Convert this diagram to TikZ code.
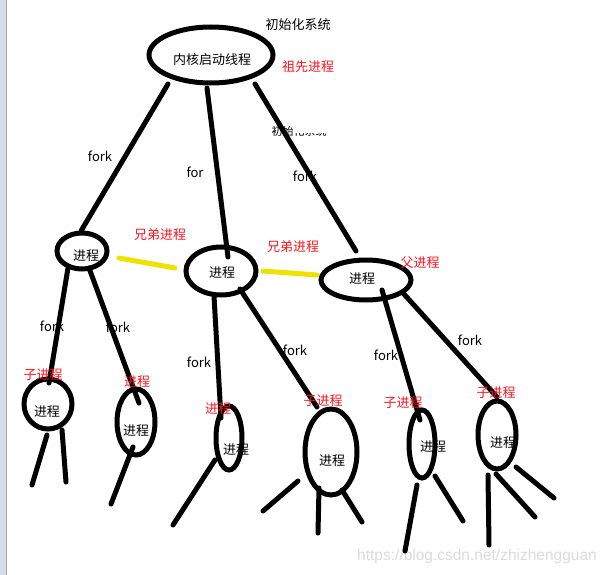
\documentclass[tikz,border=0pt]{standalone}
\usepackage{fontspec}
\setmainfont{Noto Sans CJK SC}
\newfontfamily\wmfont{Liberation Sans}
\usetikzlibrary{shapes.geometric}
\definecolor{hl}{RGB}{240,226,0}
\definecolor{redtxt}{RGB}{255,20,30}
\definecolor{strip}{RGB}{214,221,232}
\tikzset{
  ell/.style={ellipse, draw=black, line width=5pt, inner sep=0pt, fill=none},
  stroke/.style={line width=5pt, line cap=round, black},
  sib/.style={line width=5pt, line cap=round, hl},
  lbl/.style={inner sep=0pt, font=\fontsize{13}{15}\selectfont},
  rlbl/.style={lbl, text=redtxt},
  fk/.style={lbl, font=\fontsize{13}{15}\selectfont}
}
\begin{document}
\begin{tikzpicture}[x=1pt,y=-1pt]
\useasboundingbox (0,0) rectangle (605,575);
\fill[white] (0,0) rectangle (605,575);
\fill[strip] (0,0) rectangle (6,575);
\draw[gray!70, line width=0.8pt] (6.5,0) -- (6.5,575);

% watermark
\node[inner sep=0pt, text=gray!28, font=\wmfont\fontsize{15.5}{17}\selectfont] (wm) at (477,556) {https://blog.csdn.net/zhizhengguan};

% partially erased text
\begin{scope}
  \clip (260,127) rectangle (295,140);
  \node[inner sep=0pt, font=\fontsize{11}{13}\selectfont] (g1) at (282.5,131) {初始};
\end{scope}
\begin{scope}
  \clip (294,134) rectangle (335,140);
  \node[inner sep=0pt, font=\fontsize{11}{13}\selectfont] (g2) at (310,131) {化系统};
\end{scope}

% ellipses
\node[ell, minimum width=124pt, minimum height=56pt] (r) at (211,55) {};
\node[ell, minimum width=50pt, minimum height=36pt] (L) at (82,251) {};
\node[ell, minimum width=70pt, minimum height=48pt] (M) at (221,271) {};
\node[ell, minimum width=90pt, minimum height=40pt] (R) at (366,280) {};
\node[ell, minimum width=48pt, minimum height=50pt] (A) at (48,404) {};
\node[ell, minimum width=38pt, minimum height=66pt] (B) at (136,422) {};
\node[ell, minimum width=26pt, minimum height=64pt] (C) at (229,438) {};
\node[ell, minimum width=52pt, minimum height=86pt] (D) at (331,452) {};
\node[ell, minimum width=26pt, minimum height=68pt] (E) at (422,444) {};
\node[ell, minimum width=38pt, minimum height=68pt] (F) at (497,435) {};

% connector endpoints
\coordinate (rL) at (168,84);  \coordinate (Lt) at (81,231);
\coordinate (rM) at (207,88);  \coordinate (Mt) at (228,257);
\coordinate (rR) at (255,84);  \coordinate (Rt) at (356,251);
\coordinate (LA) at (68,268);  \coordinate (At) at (49,383);
\coordinate (LB) at (89,268);  \coordinate (Bt) at (139,403);
\coordinate (MC) at (214,296); \coordinate (Ct) at (221,418);
\coordinate (MD) at (240,289); \coordinate (Dt) at (317,407);
\coordinate (RE) at (382,290); \coordinate (Et) at (420,420);
\coordinate (RF) at (403,293); \coordinate (Ft) at (497,397);

\draw[stroke] (rL) -- (Lt);
\draw[stroke] (rM) -- (Mt);
\draw[stroke] (rR) -- (Rt);
\draw[stroke] (LA) -- (At);
\draw[stroke] (LB) -- (Bt);
\draw[stroke] (MC) -- (Ct);
\draw[stroke] (MD) -- (Dt);
\draw[stroke] (RE) -- (Et);
\draw[stroke] (RF) -- (Ft);

% sibling lines
\coordinate (y1a) at (119,258); \coordinate (y1b) at (175,268);
\coordinate (y2a) at (263,271); \coordinate (y2b) at (317,275);
\draw[sib] (y1a) -- (y1b);
\draw[sib] (y2a) -- (y2b);

% legs
\coordinate (a1) at (47,435);  \coordinate (a1e) at (32,485);
\coordinate (a2) at (62,430);  \coordinate (a2e) at (66,482);
\coordinate (b1) at (133,447); \coordinate (b1e) at (111,504);
\coordinate (c1) at (215,460); \coordinate (c1e) at (173,525);
\coordinate (d1) at (298,481); \coordinate (d1e) at (263,511);
\coordinate (d2) at (319,488); \coordinate (d2e) at (318,533);
\coordinate (d3) at (342,490); \coordinate (d3e) at (362,522);
\coordinate (e1) at (417,485); \coordinate (e1e) at (405,551);
\coordinate (e2) at (435,476); \coordinate (e2e) at (463,521);
\coordinate (g1s) at (488,475); \coordinate (g1e) at (489,545);
\coordinate (g2s) at (496,474); \coordinate (g2e) at (535,517);
\coordinate (g3s) at (516,467); \coordinate (g3e) at (554,498);
\foreach \s/\e in {a1/a1e,a2/a2e,b1/b1e,c1/c1e,d1/d1e,d2/d2e,d3/d3e,e1/e1e,e2/e2e,g1s/g1e,g2s/g2e,g3s/g3e}
  \draw[stroke] (\s) -- (\e);

% texts in ellipses
\node[lbl] (tr) at (212,60) {内核启动线程};
\node[lbl] (tL) at (86,256) {进程};
\node[lbl] (tM) at (222,273) {进程};
\node[lbl] (tR) at (362,279) {进程};
\node[lbl] (tA) at (47,412) {进程};
\node[lbl] (tB) at (136,431) {进程};
\node[lbl] (tC) at (236,450) {进程};
\node[lbl] (tD) at (332,461) {进程};
\node[lbl] (tE) at (433,447) {进程};
\node[lbl] (tF) at (503,443) {进程};

% other labels
\node[lbl] (init) at (298,25) {初始化系统};
\node[rlbl] (anc) at (308,67) {祖先进程};
\node[rlbl] (sib1) at (160,235) {兄弟进程};
\node[rlbl] (sib2) at (293,247) {兄弟进程};
\node[rlbl] (par) at (420,263) {父进程};
\node[rlbl] (cA) at (43,375) {子进程};
\node[rlbl] (cB) at (137,382) {进程};
\node[rlbl] (cC) at (218,409) {进程};
\node[rlbl] (cD) at (323,401) {子进程};
\node[rlbl] (cE) at (403,403) {子进程};
\node[rlbl] (cF) at (496,393) {子进程};

\node[fk] (f1) at (100,156) {fork};
\node[fk] (f2) at (195,172) {for};
\node[fk] (f3) at (305,176) {fork};
\node[fk] (f4) at (52,326) {fork};
\node[fk] (f5) at (118,327) {fork};
\node[fk] (f6) at (199,362) {fork};
\node[fk] (f7) at (295,350) {fork};
\node[fk] (f8) at (386,355) {fork};
\node[fk] (f9) at (470,340) {fork};
\end{tikzpicture}
\end{document}
